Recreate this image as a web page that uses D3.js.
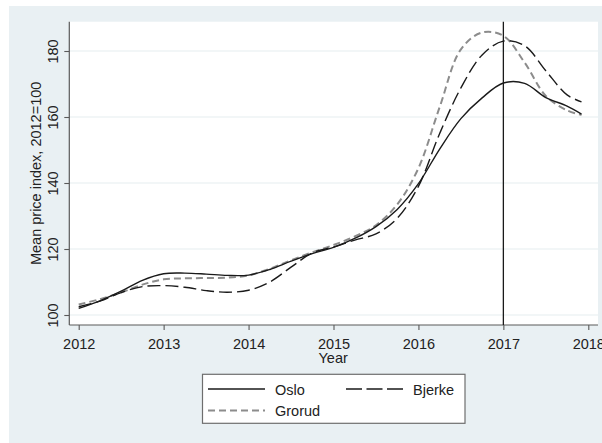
<!DOCTYPE html>
<html>
<head>
<meta charset="utf-8">
<script src="https://cdn.jsdelivr.net/npm/d3@7/dist/d3.min.js"></script>
<style>
  html, body { margin: 0; padding: 0; background: #ffffff; }
  svg { display: block; font-family: "Liberation Sans", Arial, sans-serif; }
</style>
</head>
<body>
<svg id="chart" width="602" height="443"></svg>
<script>
// Mean price index (2012 = 100), smoothed, by area
const years = [2012, 2012.25, 2012.5, 2012.75, 2013, 2013.25, 2013.5, 2013.75,
  2014, 2014.25, 2014.5, 2014.75, 2015, 2015.25, 2015.5, 2015.75,
  2016, 2016.25, 2016.5, 2016.75, 2017, 2017.25, 2017.5, 2017.75, 2017.92];

const oslo = [102.0, 104.3, 107.2, 110.5, 112.5, 112.7, 112.4, 112.0,
  112.1, 113.8, 116.3, 118.6, 120.5, 123.2, 126.8, 132.0,
  139.8, 150.3, 159.5, 165.8, 170.3, 170.2, 165.9, 163.3, 160.9];

const bjerke = [102.5, 104.2, 106.8, 108.6, 108.9, 108.4, 107.4, 106.9,
  107.5, 110.0, 114.5, 118.8, 120.6, 122.7, 124.6, 129.3,
  139.0, 155.0, 168.8, 178.8, 183.0, 181.6, 174.0, 166.7, 164.6];

const grorud = [103.2, 104.8, 106.8, 109.2, 110.8, 111.1, 111.2, 111.3,
  112.0, 114.0, 116.6, 119.0, 121.2, 123.8, 127.2, 133.5,
  144.5, 163.0, 180.5, 185.6, 184.6, 176.5, 166.4, 162.0, 160.6];

const xTicks = [2012, 2013, 2014, 2015, 2016, 2017, 2018];
const yTicks = [100, 120, 140, 160, 180];
const markerYear = 2017;

const series = [
  { name: "Oslo",   values: oslo,   color: "#1a1a1a", dash: null,  width: 1.4 },
  { name: "Bjerke", values: bjerke, color: "#1a1a1a", dash: "13,5", width: 1.4 },
  { name: "Grorud", values: grorud, color: "#8c8c8c", dash: "7,4",  width: 2 }
];

const svg = d3.select("#chart");

// scales anchored on the tick positions
const x = d3.scaleLinear().domain([2012, 2018]).range([78.7, 588.3]);
const y = d3.scaleLinear().domain([100, 180]).range([315, 51]);

const plot = { left: 69.3, right: 598, top: 21.7, bottom: 325 };

// outer graph region
svg.append("rect")
  .attr("x", 9).attr("y", 6).attr("width", 593).attr("height", 437)
  .attr("fill", "#e9f0f3");

// plot region
svg.append("rect")
  .attr("x", plot.left).attr("y", plot.top)
  .attr("width", plot.right - plot.left).attr("height", plot.bottom - plot.top)
  .attr("fill", "#ffffff");

// horizontal grid
svg.append("g").selectAll("line").data(yTicks).join("line")
  .attr("x1", plot.left).attr("x2", plot.right)
  .attr("y1", d => y(d)).attr("y2", d => y(d))
  .attr("stroke", "#e6eef0").attr("stroke-width", 1.2);

// y axis
const yAxis = svg.append("g")
  .attr("transform", `translate(${plot.left},0)`)
  .call(d3.axisLeft(y).tickValues(yTicks).tickSize(5).tickSizeOuter(0).tickFormat(d3.format("d")));
yAxis.select(".domain").remove();
yAxis.append("line")
  .attr("x1", 0).attr("x2", 0).attr("y1", plot.top).attr("y2", plot.bottom)
  .attr("stroke", "#5a5a5a").attr("stroke-width", 1.2);
yAxis.selectAll(".tick line").attr("stroke", "#5a5a5a").attr("stroke-width", 1.1);
yAxis.selectAll(".tick text")
  .attr("x", null).attr("dy", null)
  .attr("transform", "translate(-11,0) rotate(-90)")
  .attr("text-anchor", "middle")
  .attr("fill", "#222")
  .style("font-size", "14.5px");

// x axis
const xAxis = svg.append("g")
  .attr("transform", `translate(0,${plot.bottom})`)
  .call(d3.axisBottom(x).tickValues(xTicks).tickSize(5).tickSizeOuter(0).tickFormat(d3.format("d")));
xAxis.select(".domain").remove();
xAxis.append("line")
  .attr("x1", plot.left).attr("x2", plot.right).attr("y1", 0).attr("y2", 0)
  .attr("stroke", "#5a5a5a").attr("stroke-width", 1.2);
xAxis.selectAll(".tick line").attr("stroke", "#5a5a5a").attr("stroke-width", 1.1);
xAxis.selectAll(".tick text")
  .attr("y", 24).attr("dy", null)
  .attr("fill", "#222")
  .style("font-size", "14.5px");

// axis titles
svg.append("text")
  .attr("x", (plot.left + plot.right) / 2 - 0.5).attr("y", 363)
  .attr("text-anchor", "middle").attr("fill", "#222")
  .style("font-size", "14.5px")
  .text("Year");

svg.append("text")
  .attr("transform", `translate(41,${(plot.top + plot.bottom) / 2}) rotate(-90)`)
  .attr("text-anchor", "middle").attr("fill", "#222")
  .style("font-size", "14.5px")
  .text("Mean price index, 2012=100");

// series
const line = d3.line()
  .x((d, i) => x(years[i]))
  .y(d => y(d))
  .curve(d3.curveCatmullRom.alpha(0.5));

svg.append("g").selectAll("path").data(series.slice().reverse()).join("path")
  .attr("d", d => line(d.values))
  .attr("fill", "none")
  .attr("stroke", d => d.color)
  .attr("stroke-width", d => d.width)
  .attr("stroke-dasharray", d => d.dash);

// reference line
svg.append("line")
  .attr("x1", x(markerYear)).attr("x2", x(markerYear))
  .attr("y1", plot.top).attr("y2", plot.bottom)
  .attr("stroke", "#1a1a1a").attr("stroke-width", 1.3);

// legend
const legend = svg.append("g");
legend.append("rect")
  .attr("x", 202.5).attr("y", 374.3).attr("width", 262.5).attr("height", 49)
  .attr("fill", "#ffffff").attr("stroke", "#6e6e6e").attr("stroke-width", 1.2);

const legendPos = [
  { x: 208, y: 389 },
  { x: 346, y: 389 },
  { x: 208, y: 410.5 }
];
series.forEach((s, i) => {
  const p = legendPos[i];
  legend.append("line")
    .attr("x1", p.x).attr("x2", p.x + 57)
    .attr("y1", p.y).attr("y2", p.y)
    .attr("stroke", s.color).attr("stroke-width", s.width)
    .attr("stroke-dasharray", s.name === "Bjerke" ? "16,4.5" : s.dash);
  legend.append("text")
    .attr("x", p.x + 67).attr("y", p.y + 5.5)
    .attr("fill", "#222")
    .style("font-size", "14.5px")
    .text(s.name);
});
</script>
</body>
</html>
